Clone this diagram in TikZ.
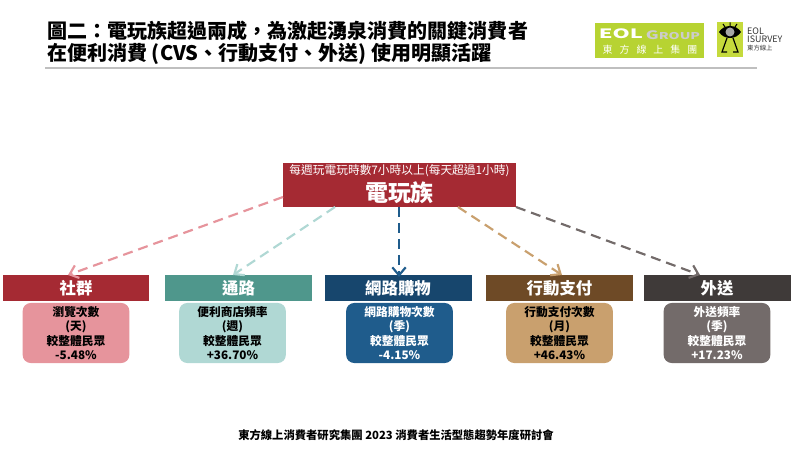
\documentclass[tikz,border=0pt]{standalone}
\usepackage{fontspec}
\setmainfont{Noto Sans CJK TC}
\usetikzlibrary{arrows.meta}
\definecolor{redhead}{HTML}{A52A33}
\definecolor{redbody}{HTML}{E6949C}
\definecolor{tealhead}{HTML}{4F978C}
\definecolor{tealbody}{HTML}{B0D8D4}
\definecolor{navyhead}{HTML}{17466D}
\definecolor{navybody}{HTML}{1F5C8C}
\definecolor{brownhead}{HTML}{6E4A26}
\definecolor{brownbody}{HTML}{C9A06E}
\definecolor{darkhead}{HTML}{3F3A39}
\definecolor{darkbody}{HTML}{736B6A}
\definecolor{eolgreen}{HTML}{B7D332}
\definecolor{surveygreen}{HTML}{C5DA3C}
\begin{document}
\begin{tikzpicture}[x=0.3mm, y=-0.3mm,
head/.style={inner sep=0pt, minimum width=4.41cm, minimum height=0.78cm, text=white, font=\fontsize{14}{16}\selectfont\bfseries},
body/.style={rounded corners=2.4mm, inner sep=0pt, minimum width=3.2cm, minimum height=1.8cm, align=center, font=\fontsize{10}{12.2}\selectfont\bfseries},
link/.style={line width=0.65mm, dash pattern=on 3mm off 1.8mm, -{Straight Barb[length=2.4mm, width=4mm]}},
logotext/.style={inner sep=0pt, anchor=west, text=black!80, font=\fontsize{7.6}{8}\selectfont}]
\useasboundingbox (0,0) rectangle (800,450);

\node (title) [anchor=north west, inner sep=0pt, align=left, font=\fontsize{17.1}{18.4}\selectfont\bfseries] at (47,21)
  {圖二：電玩族超過兩成，為激起湧泉消費的關鍵消費者\\在便利消費 (CVS、行動支付、外送) 使用明顯活躍};
\draw [line width=0.6mm, black!25] (45,68) -- (757,68);

\fill [eolgreen] (595,23) rectangle (704,58);
\node (eolname) [inner sep=0pt, text=white, xscale=1.7, font=\fontsize{11}{12}\selectfont\bfseries] at (621,34) {EOL};
\node (eolgroup) [inner sep=0pt, text=white!80!black, xscale=1.5, font=\fontsize{8}{10}\selectfont\bfseries] at (673,35) {{\fontsize{10}{10}\selectfont G}ROUP};
\node (eolchinese) [inner sep=0pt, text=white, font=\fontsize{8.5}{10}\selectfont] at (650,50) {東\hspace{0.7em}方\hspace{0.7em}線\hspace{0.7em}上\hspace{0.7em}集\hspace{0.7em}團};
\fill [surveygreen] (717,22) rectangle (743,57);
\draw [line width=0.3mm] (730,26) -- (730,22.5) (725,27) -- (723,24) (735,27) -- (737,24);
\fill [black] (719,32) .. controls (724,24) and (736,24) .. (741,32) .. controls (736,40) and (724,40) .. (719,32);
\fill [black!35] (730,32) circle (4.5);
\draw [line width=0.35mm] (727,38) -- (722,52) -- (727,52) (733,38) -- (738,52) -- (733,52);
\node (survey1) [logotext] at (747,31) {EOL};
\node (survey2) [logotext] at (747,39) {ISURVEY};
\node (survey3) [logotext, font=\fontsize{5.4}{7}\selectfont] at (747,48) {東方線上};

\node (gamer) [fill=redhead, inner sep=0pt, minimum width=6.99cm, minimum height=1.32cm] at (399.5,185) {};
\node (gamersub) [inner sep=0pt, text=white, font=\fontsize{10}{12}\selectfont] at (399.5,171) {每週玩電玩時數7小時以上(每天超過1小時)};
\node (gamername) [inner sep=0pt, text=white, font=\fontsize{19.6}{22}\selectfont\bfseries] at (399.5,193) {電玩族};

\node (social) [head, minimum width=4.38cm, fill=redhead] at (76,288) {社群};
\node (commute) [head, fill=tealhead] at (238.5,288) {通路};
\node (online) [head, fill=navyhead] at (398,288) {網路購物};
\node (mobile) [head, fill=brownhead] at (559.5,288) {行動支付};
\node (delivery) [head, fill=darkhead] at (717,288) {外送};

\node (socialbody) [body, fill=redbody] at (76,333) {瀏覽次數\\(天)\\較整體民眾\\-5.48\%};
\node (commutebody) [body, fill=tealbody] at (232.5,333) {便利商店頻率\\(週)\\較整體民眾\\+36.70\%};
\node (onlinebody) [body, fill=navybody, text=white] at (399.5,333) {網路購物次數\\(季)\\較整體民眾\\-4.15\%};
\node (mobilebody) [body, fill=brownbody] at (559.5,333) {行動支付次數\\(月)\\較整體民眾\\+46.43\%};
\node (deliverybody) [body, fill=darkbody, text=white] at (717,333) {外送頻率\\(季)\\較整體民眾\\+17.23\%};

\coordinate (from1) at (283,197);
\coordinate (from2) at (335,207);
\coordinate (from3) at (399,207);
\coordinate (from4) at (458,207);
\coordinate (from5) at (516,207);
\coordinate (to1) at (68,275);
\coordinate (to2) at (233,275);
\coordinate (to3) at (399,277);
\coordinate (to4) at (562,275);
\coordinate (to5) at (700,275);
\draw [link, redbody] (from1) -- (to1);
\draw [link, tealbody] (from2) -- (to2);
\draw [link, navybody] (from3) -- (to3);
\draw [link, brownbody] (from4) -- (to4);
\draw [link, darkbody] (from5) -- (to5);

\node (footer) [inner sep=0pt, font=\fontsize{9.65}{12}\selectfont\bfseries] at (396,435) {東方線上消費者研究集團 2023 消費者生活型態趨勢年度研討會};
\end{tikzpicture}
\end{document}
